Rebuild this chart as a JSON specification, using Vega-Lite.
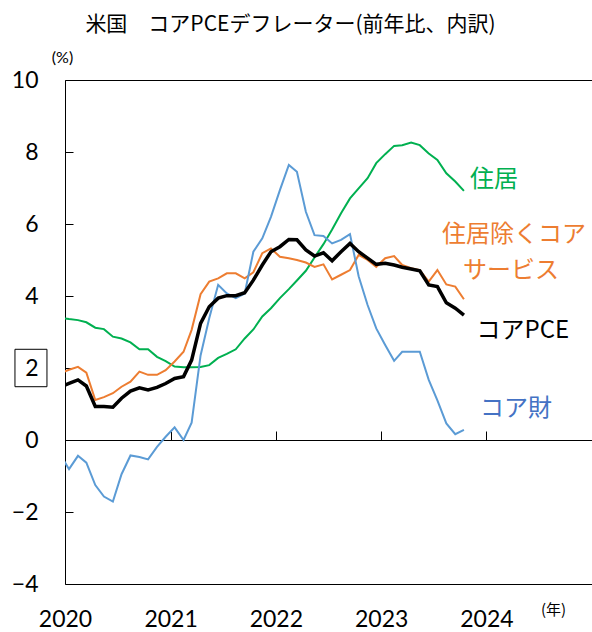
{
  "$schema": "https://vega.github.io/schema/vega-lite/v6.json",
  "width": 527,
  "height": 504,
  "autosize": {"type": "none"},
  "padding": {"left": 65, "top": 80, "right": 0, "bottom": 48},
  "background": "white",
  "title": {
    "text": "米国　コアPCEデフレーター(前年比、内訳)",
    "font": "Noto Sans CJK JP",
    "fontSize": 21,
    "fontWeight": "normal",
    "color": "black",
    "anchor": "middle",
    "frame": "group",
    "dx": -38,
    "dy": 3,
    "offset": 0,
    "baseline": "alphabetic"
  },
  "config": {
    "view": {"stroke": "black", "strokeWidth": 1},
    "font": "Lato",
    "axis": {
      "grid": false,
      "labelColor": "black",
      "tickColor": "black",
      "domainColor": "black",
      "titleColor": "black",
      "labelFont": "Lato",
      "titleFont": "Lato",
      "titleFontWeight": "normal"
    }
  },
  "datasets": {
    "pce": [
      {"date": "2019-12-15", "housing": 3.40, "services": 1.85, "core": 1.47, "goods": -0.40},
      {"date": "2020-01-15", "housing": 3.36, "services": 1.95, "core": 1.57, "goods": -0.81},
      {"date": "2020-02-15", "housing": 3.33, "services": 2.03, "core": 1.67, "goods": -0.44},
      {"date": "2020-03-15", "housing": 3.27, "services": 1.87, "core": 1.50, "goods": -0.63},
      {"date": "2020-04-15", "housing": 3.12, "services": 1.11, "core": 0.93, "goods": -1.25},
      {"date": "2020-05-15", "housing": 3.08, "services": 1.19, "core": 0.93, "goods": -1.57},
      {"date": "2020-06-15", "housing": 2.87, "services": 1.30, "core": 0.91, "goods": -1.71},
      {"date": "2020-07-15", "housing": 2.82, "services": 1.48, "core": 1.16, "goods": -0.95},
      {"date": "2020-08-15", "housing": 2.71, "services": 1.62, "core": 1.36, "goods": -0.43},
      {"date": "2020-09-15", "housing": 2.52, "services": 1.90, "core": 1.45, "goods": -0.47},
      {"date": "2020-10-15", "housing": 2.52, "services": 1.81, "core": 1.39, "goods": -0.54},
      {"date": "2020-11-15", "housing": 2.31, "services": 1.81, "core": 1.46, "goods": -0.19},
      {"date": "2020-12-15", "housing": 2.19, "services": 1.94, "core": 1.57, "goods": 0.09},
      {"date": "2021-01-15", "housing": 2.04, "services": 2.18, "core": 1.71, "goods": 0.35},
      {"date": "2021-02-15", "housing": 2.02, "services": 2.45, "core": 1.76, "goods": 0.00},
      {"date": "2021-03-15", "housing": 2.02, "services": 3.06, "core": 2.22, "goods": 0.48},
      {"date": "2021-04-15", "housing": 2.03, "services": 4.05, "core": 3.24, "goods": 2.35},
      {"date": "2021-05-15", "housing": 2.08, "services": 4.40, "core": 3.70, "goods": 3.38},
      {"date": "2021-06-15", "housing": 2.28, "services": 4.49, "core": 3.94, "goods": 4.31},
      {"date": "2021-07-15", "housing": 2.39, "services": 4.63, "core": 4.01, "goods": 4.07},
      {"date": "2021-08-15", "housing": 2.52, "services": 4.63, "core": 4.01, "goods": 3.94},
      {"date": "2021-09-15", "housing": 2.82, "services": 4.49, "core": 4.09, "goods": 4.07},
      {"date": "2021-10-15", "housing": 3.07, "services": 4.66, "core": 4.44, "goods": 5.23},
      {"date": "2021-11-15", "housing": 3.43, "services": 5.19, "core": 4.86, "goods": 5.60},
      {"date": "2021-12-15", "housing": 3.66, "services": 5.32, "core": 5.23, "goods": 6.20},
      {"date": "2022-01-15", "housing": 3.94, "services": 5.09, "core": 5.37, "goods": 6.94},
      {"date": "2022-02-15", "housing": 4.19, "services": 5.05, "core": 5.57, "goods": 7.64},
      {"date": "2022-03-15", "housing": 4.43, "services": 5.00, "core": 5.56, "goods": 7.45},
      {"date": "2022-04-15", "housing": 4.70, "services": 4.93, "core": 5.28, "goods": 6.34},
      {"date": "2022-05-15", "housing": 5.07, "services": 4.81, "core": 5.11, "goods": 5.69},
      {"date": "2022-06-15", "housing": 5.44, "services": 4.88, "core": 5.20, "goods": 5.67},
      {"date": "2022-07-15", "housing": 5.85, "services": 4.46, "core": 4.98, "goods": 5.46},
      {"date": "2022-08-15", "housing": 6.30, "services": 4.59, "core": 5.23, "goods": 5.56},
      {"date": "2022-09-15", "housing": 6.71, "services": 4.72, "core": 5.46, "goods": 5.72},
      {"date": "2022-10-15", "housing": 6.99, "services": 5.14, "core": 5.23, "goods": 4.55},
      {"date": "2022-11-15", "housing": 7.27, "services": 5.00, "core": 5.05, "goods": 3.75},
      {"date": "2022-12-15", "housing": 7.69, "services": 4.81, "core": 4.88, "goods": 3.10},
      {"date": "2023-01-15", "housing": 7.94, "services": 5.05, "core": 4.91, "goods": 2.64},
      {"date": "2023-02-15", "housing": 8.17, "services": 5.11, "core": 4.86, "goods": 2.20},
      {"date": "2023-03-15", "housing": 8.19, "services": 4.86, "core": 4.80, "goods": 2.45},
      {"date": "2023-04-15", "housing": 8.26, "services": 4.77, "core": 4.75, "goods": 2.45},
      {"date": "2023-05-15", "housing": 8.19, "services": 4.72, "core": 4.70, "goods": 2.45},
      {"date": "2023-06-15", "housing": 7.96, "services": 4.40, "core": 4.31, "goods": 1.67},
      {"date": "2023-07-15", "housing": 7.78, "services": 4.72, "core": 4.26, "goods": 1.10},
      {"date": "2023-08-15", "housing": 7.41, "services": 4.32, "core": 3.81, "goods": 0.46},
      {"date": "2023-09-15", "housing": 7.18, "services": 4.26, "core": 3.66, "goods": 0.16},
      {"date": "2023-10-15", "housing": 6.92, "services": 3.91, "core": 3.47, "goods": 0.28}
    ],
    "labels": [
      {"series": "housing", "text": "住居", "date": "2023-11-05", "value": 7.22},
      {"series": "services", "text": "住居除くコア", "date": "2023-07-31", "value": 5.69},
      {"series": "services", "text": "サービス", "date": "2023-10-12", "value": 4.69},
      {"series": "core", "text": "コアPCE", "date": "2023-11-28", "value": 3.03},
      {"series": "goods", "text": "コア財", "date": "2023-12-10", "value": 0.86}
    ]
  },
  "resolve": {"axis": {"x": "independent"}, "scale": {"color": "independent"}},
  "layer": [
    {
      "data": {"name": "pce"},
      "transform": [
        {"fold": ["housing", "services", "goods"], "as": ["series", "value"]}
      ],
      "mark": {"type": "line", "strokeWidth": 2, "clip": true},
      "encoding": {
        "x": {
          "field": "date",
          "type": "temporal",
          "scale": {
            "type": "utc",
            "nice": false,
            "domain": [
              {"year": 2020, "month": 1, "date": 1, "utc": true},
              {"year": 2025, "month": 1, "date": 1, "utc": true}
            ]
          },
          "axis": {
            "orient": "bottom",
            "values": [
              {"year": 2020, "month": 1, "date": 1, "utc": true},
              {"year": 2021, "month": 1, "date": 1, "utc": true},
              {"year": 2022, "month": 1, "date": 1, "utc": true},
              {"year": 2023, "month": 1, "date": 1, "utc": true},
              {"year": 2024, "month": 1, "date": 1, "utc": true}
            ],
            "format": "%Y",
            "ticks": false,
            "domain": false,
            "labelPadding": 24,
            "labelFontSize": 23,
            "labelFlush": false,
            "labelOverlap": false,
            "labelAlign": "center",
            "labelBaseline": "top",
            "title": "(年)",
            "titleFont": "Noto Sans CJK JP",
            "titleFontSize": 15,
            "titleX": 488,
            "titleY": 25,
            "titleAlign": "center",
            "titleBaseline": "middle"
          }
        },
        "y": {
          "field": "value",
          "type": "quantitative",
          "scale": {"domain": [-4, 10], "nice": false, "zero": false},
          "axis": {
            "orient": "left",
            "values": [-4, -2, 0, 2, 4, 6, 8, 10],
            "domain": false,
            "tickSize": -8,
            "labelPadding": 35,
            "labelFontSize": 23,
            "labelFlush": false,
            "labelOverlap": false,
            "title": "(%)",
            "titleFontSize": 16,
            "titleAngle": 0,
            "titleX": -3,
            "titleY": -23,
            "titleAlign": "center",
            "titleBaseline": "middle"
          }
        },
        "color": {
          "field": "series",
          "type": "nominal",
          "scale": {"domain": ["housing", "services", "goods"], "range": ["#00B050", "#ED7D31", "#5B9BD5"]},
          "legend": null
        }
      }
    },
    {
      "data": {"name": "pce"},
      "mark": {"type": "line", "strokeWidth": 3.5, "color": "black", "clip": true},
      "encoding": {
        "x": {"field": "date", "type": "temporal", "axis": null},
        "y": {"field": "core", "type": "quantitative"}
      }
    },
    {
      "data": {"name": "labels"},
      "mark": {"type": "text", "align": "left", "baseline": "middle", "font": "Noto Sans CJK JP", "fontSize": 24},
      "encoding": {
        "x": {
          "field": "date",
          "type": "temporal",
          "axis": {
            "orient": "top",
            "offset": -360,
            "values": [
              {"year": 2021, "month": 1, "date": 1, "utc": true},
              {"year": 2022, "month": 1, "date": 1, "utc": true},
              {"year": 2023, "month": 1, "date": 1, "utc": true},
              {"year": 2024, "month": 1, "date": 1, "utc": true}
            ],
            "labels": false,
            "ticks": true,
            "tickSize": 9,
            "domain": true,
            "domainColor": "black",
            "domainWidth": 1,
            "title": null
          }
        },
        "y": {"field": "value", "type": "quantitative"},
        "text": {"field": "text"},
        "color": {
          "field": "series",
          "type": "nominal",
          "scale": {"domain": ["housing", "services", "core", "goods"], "range": ["#00B050", "#ED7D31", "#000000", "#4472C4"]},
          "legend": null
        }
      }
    },
    {
      "data": {"values": [{}]},
      "mark": {
        "type": "point",
        "shape": "M-0.855,-1L0.855,-1L0.855,1L-0.855,1Z",
        "size": 1400,
        "filled": false,
        "color": "black",
        "stroke": "black",
        "strokeWidth": 1,
        "opacity": 1,
        "clip": false
      },
      "encoding": {
        "x": {"datum": {"year": 2019, "month": 9, "date": 5, "utc": true}, "type": "temporal", "axis": null},
        "y": {"datum": 2, "type": "quantitative"}
      }
    }
  ]
}
